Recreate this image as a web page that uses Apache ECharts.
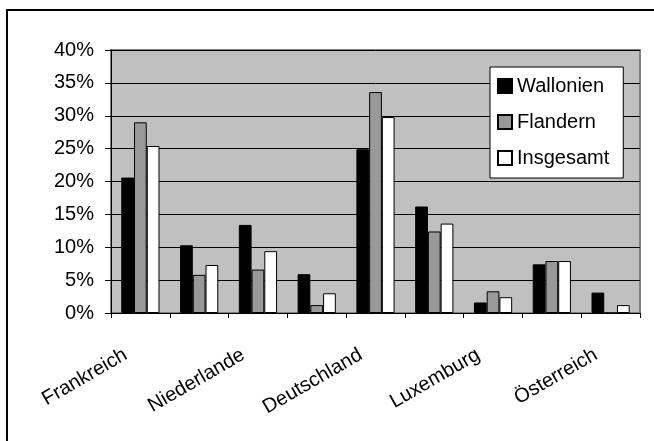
<!DOCTYPE html>
<html>
<head>
<meta charset="utf-8">
<script src="https://cdn.jsdelivr.net/npm/echarts@6/dist/echarts.min.js"></script>
<style>html,body{margin:0;padding:0;background:#fff}#c{width:654px;height:441px}</style>
</head>
<body>
<div id="c"></div>
<script>
const categories = ['Frankreich', '', 'Niederlande', '', 'Deutschland', '', 'Luxemburg', '', 'Österreich'];
const wallonien = [20.6, 10.3, 13.4, 5.9, 24.9, 16.2, 1.6, 7.4, 3.1];
const flandern  = [29.0, 5.8, 6.6, 1.2, 33.6, 12.4, 3.3, 7.9, 0];
const insgesamt = [25.4, 7.3, 9.4, 3.0, 29.8, 13.6, 2.4, 7.9, 1.2];
const yTicks = [0, 5, 10, 15, 20, 25, 30, 35, 40];

const chart = echarts.init(document.getElementById('c'), null, {renderer: 'canvas'});
const font = 'Arial, "Liberation Sans", sans-serif';
const barStyle = (c) => ({color: c, borderColor: '#000', borderWidth: 1});
chart.setOption({
  animation: false,
  graphic: [{
    type: 'rect', z: 100, silent: true,
    shape: {x: 7, y: 10, width: 700, height: 500},
    style: {fill: 'none', stroke: '#000', lineWidth: 2}
  }],
  grid: {
    left: 111, right: 14, top: 50, bottom: 128,
    show: true, backgroundColor: '#C0C0C0', borderColor: '#808080', borderWidth: 2
  },
  legend: {
    orient: 'vertical', left: 490, top: 67,
    padding: [9, 14, 10, 7], itemGap: 16,
    backgroundColor: '#fff', borderColor: '#000', borderWidth: 1,
    itemWidth: 14, itemHeight: 14,
    textStyle: {fontFamily: font, fontSize: 20, color: '#000'},
    data: [
      {name: 'Wallonien', icon: 'rect'},
      {name: 'Flandern', icon: 'rect'},
      {name: 'Insgesamt', icon: 'rect'}
    ]
  },
  xAxis: {
    type: 'category', data: categories,
    axisLine: {lineStyle: {color: '#000', width: 1}},
    axisTick: {show: true, length: 5, lineStyle: {color: '#000'}},
    axisLabel: {interval: 0, rotate: 30, margin: 32, padding: [0, 17, 0, 0], fontFamily: font, fontSize: 20, color: '#000'},
    splitLine: {show: false}
  },
  yAxis: {
    type: 'value', min: yTicks[0], max: yTicks[yTicks.length - 1], interval: 5,
    axisLine: {show: true, lineStyle: {color: '#000', width: 1}},
    axisTick: {show: true, length: 6, lineStyle: {color: '#000'}},
    axisLabel: {formatter: '{value}%', margin: 17, fontFamily: font, fontSize: 20, color: '#000'},
    splitLine: {show: true, lineStyle: {color: '#000', width: 1}}
  },
  series: [
    {name: 'Wallonien', type: 'bar', data: wallonien, barGap: '0%', barCategoryGap: '35%', itemStyle: barStyle('#000000')},
    {name: 'Flandern', type: 'bar', data: flandern, itemStyle: barStyle('#999999')},
    {name: 'Insgesamt', type: 'bar', data: insgesamt, itemStyle: barStyle('#ffffff')}
  ]
});
</script>
</body>
</html>
